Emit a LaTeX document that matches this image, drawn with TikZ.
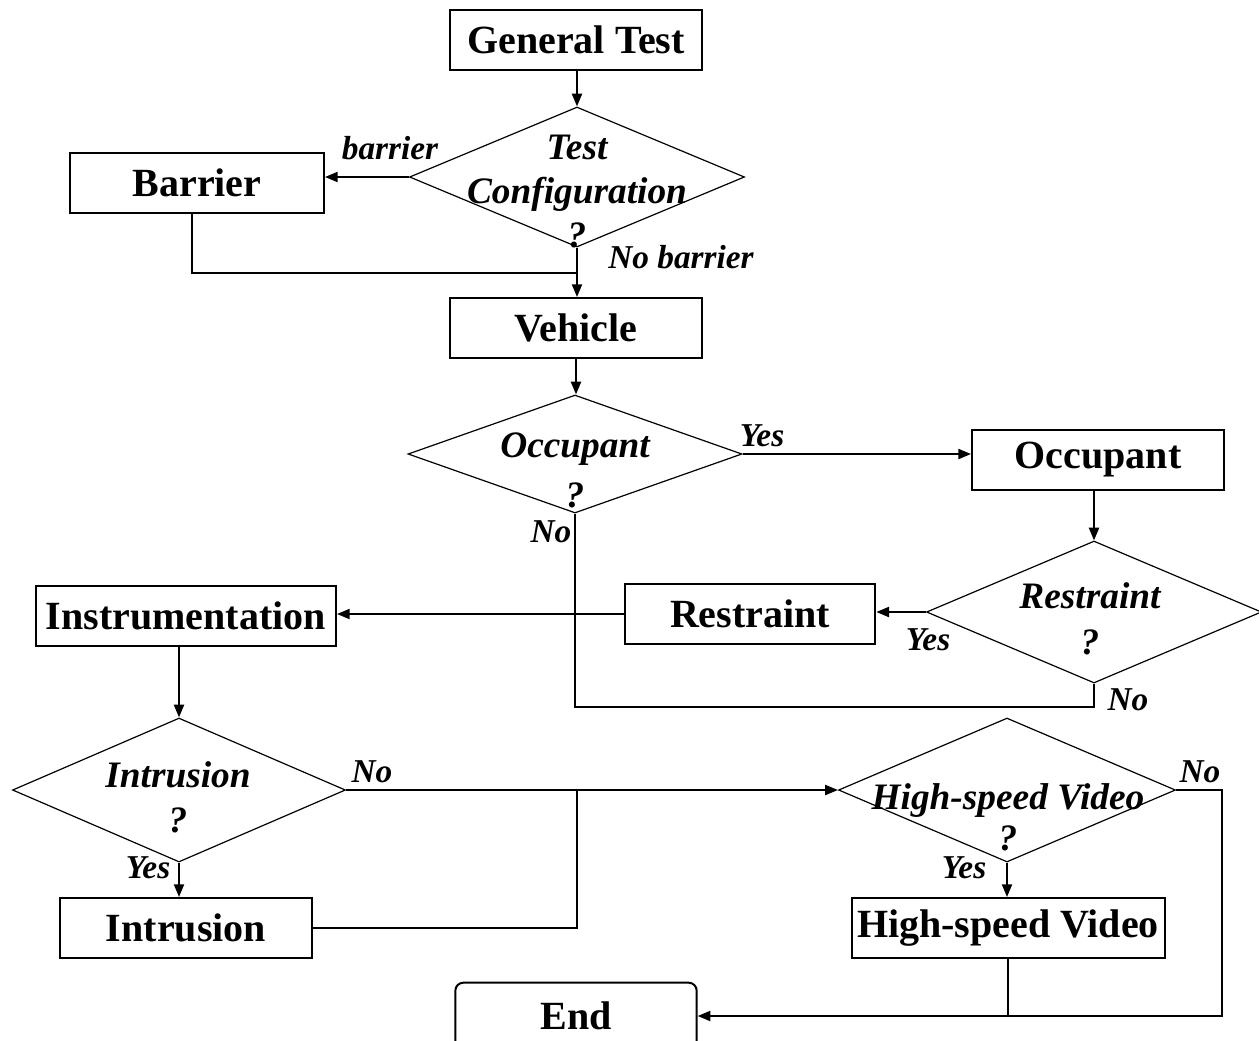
\documentclass[tikz,border=0pt]{standalone}
\usepackage{fontspec}
\setmainfont{Liberation Serif}
\usetikzlibrary{shapes.geometric,arrows.meta}

\tikzset{
  stepbox/.style={draw,line width=1.5pt,rectangle,minimum width=#1,minimum height=45pt,
    inner sep=0pt,font=\fontsize{30}{34}\selectfont\bfseries},
  stepbox/.default=189pt,
  decision/.style 2 args={draw,diamond,line width=0.9pt,minimum width=#1,minimum height=#2,inner sep=0pt},
  qtext/.style={align=center,inner sep=0pt,font=\fontsize{28}{#1}\selectfont\bfseries\itshape},
  lbl/.style={inner sep=0pt,font=\fontsize{25}{30}\selectfont\bfseries\itshape},
  flow/.style={line width=1.5pt,-{Triangle[length=9.5pt,width=7.5pt]}},
  link/.style={line width=1.5pt}
}

\begin{document}
\begin{tikzpicture}[x=0.75pt,y=0.75pt,yscale=-1,xscale=1]
\useasboundingbox (0,0) rectangle (1259,1040);

%Boxes
\node[stepbox] (gen) at (576,40) {General Test};
\node[stepbox=190.5pt] (bar) at (197,183) {Barrier};
\node[stepbox] (veh) at (576,328) {Vehicle};
\node[stepbox] (occb) at (1098,460) {Occupant};
\node[stepbox=188pt] (resb) at (750,614) {Restraint};
\node[stepbox=225pt] (ins) at (186,616) {Instrumentation};
\node[stepbox] (intb) at (186,928) {Intrusion};
\node[stepbox=234.75pt] (hsb) at (1008,928) {High-speed Video};
\node[stepbox=181pt,minimum height=50pt,rounded corners=6pt] (fin) at (576,1016) {End};

%Decisions
\node[decision={251.25pt}{105pt}] (cfg) at (577,177) {};
\node[decision={250.5pt}{88.5pt}] (occd) at (575,454) {};
\node[decision={251.25pt}{106.5pt}] (resd) at (1094,612) {};
\node[decision={249.75pt}{108pt}] (intd) at (179,790) {};
\node[decision={252.75pt}{108pt}] (hsd) at (1007,790) {};

% Text Node
\node[qtext=33pt] (cfgt) at (577,192) {Test\\Configuration\\?};
\node[qtext=37.5pt] (occt) at (575,470) {Occupant\\?};
\node[qtext=34.5pt] (rest) at (1090,619) {Restraint\\?};
\node[qtext=34pt] (intt) at (178,797) {Intrusion\\?};
\node[qtext=31pt] (hst) at (1008,817) {High-speed Video\\?};

% Labels
\node[lbl] (l1) at (390,148) {barrier};
\node[lbl] (l2) at (681,257) {No barrier};
\node[lbl] (l3) at (762,436) {Yes};
\node[lbl] (l4) at (551,532) {No};
\node[lbl] (l5) at (928,640) {Yes};
\node[lbl] (l6) at (1128,700) {No};
\node[lbl] (l7) at (372,772) {No};
\node[lbl] (l8) at (148,868) {Yes};
\node[lbl] (l9) at (1200,772) {No};
\node[lbl] (l10) at (964,868) {Yes};

%Junctions
\coordinate (barj) at (577,273);
\coordinate (noj) at (1094,707);
\coordinate (intj) at (577,790);
\coordinate (hsj) at (1222,1016);

%Connectors
\draw[flow] (cfg.north |- gen.south) -- (cfg.north);
\draw[flow] (cfg.west) -- (cfg.west -| bar.east);
\draw[link] ([xshift=-4pt]bar.south) |- (barj);
\draw[flow] (cfg.south) -- (cfg.south |- veh.north);
\draw[flow] (veh.south) -- (veh.south |- occd.north);
\draw[flow] (occd.east) -- (occd.east -| occb.west);
\draw[flow] (occb.south -| resd.north) -- (resd.north);
\draw[flow] (resd.west) -- (resd.west -| resb.east);
\draw[flow] (resb.west) -- (resb.west -| ins.east);
\draw[link] (occd.south) |- (noj) -- (resd.south);
\draw[flow] (ins.south -| intd.north) -- (intd.north);
\draw[flow] (intd.east) -- (hsd.west);
\draw[flow] (intd.south) -- (intd.south |- intb.north);
\draw[link] (intb.east) -| (intj);
\draw[flow] (hsd.south) -- (hsd.south |- hsb.north);
\draw[flow] (hsd.east) -| (hsj) -- (fin.east);
\draw[link] (hsb.south) -- (hsb.south |- fin.east);

\end{tikzpicture}
\end{document}
